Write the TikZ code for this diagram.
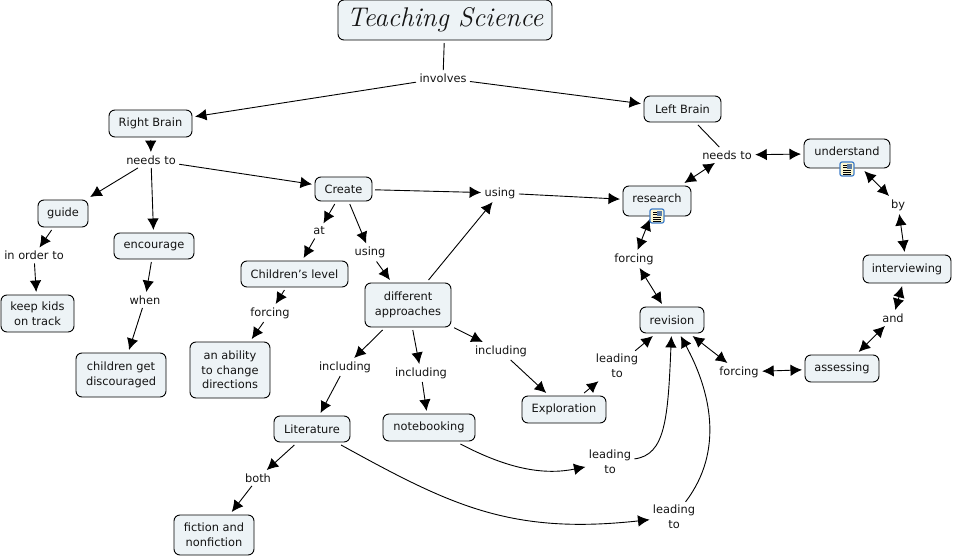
\documentclass[tikz,border=0pt]{standalone}
\usepackage{fontspec}
\setsansfont{DejaVu Sans}
\usetikzlibrary{arrows.meta}
\definecolor{conceptfill}{HTML}{EDF3F6}
\definecolor{iconblue}{HTML}{3D7CC9}
\definecolor{iconcream}{HTML}{FBF6D0}
\tikzset{>={Latex[length=11.5pt,width=11.5pt]},
  every node/.style={font=\sffamily\fontsize{11.4}{14.6}\selectfont,text=black!92},
  concept/.style={draw=black,fill=conceptfill,rounded corners=6pt,line width=.9pt,
    align=center,inner sep=1pt,outer sep=3pt},
  phrase/.style={align=center,inner sep=1pt,outer sep=2.5pt},
  link/.style={draw=black,line width=.9pt},
  noteicon/.pic={
    \draw[iconblue,fill=iconcream,line width=1.2pt,rounded corners=2pt] (-7,-7) rectangle (7,7);
    \foreach \y in {-4,-2}{\draw[black,line width=.8pt] (-4,\y)--(-.5,\y);}
    \foreach \y in {1,3,5}{\draw[black,line width=.8pt] (-4,\y)--(4,\y);}
    \fill[iconblue!55!gray] (0,-5) rectangle (5,-.5);
  }}
\begin{document}
\begin{tikzpicture}[x=1pt,y=-1pt]
\path[use as bounding box] (0,0) rectangle (954,557);
% concepts
\node[concept,minimum width=214pt,minimum height=40pt,font=\rmfamily\itshape\fontsize{27}{30}\selectfont] (science) at (445,20) {Teaching Science};
\node[concept,minimum width=83pt,minimum height=27pt] (rightbrain) at (150.5,123.5) {Right Brain};
\node[concept,minimum width=77pt,minimum height=26pt] (leftbrain) at (682.5,109) {Left Brain};
\node[concept,minimum width=86pt,minimum height=29pt,text height=9pt,text depth=6pt] (understand) at (847,153.5) {understand};
\node[concept,minimum width=68pt,minimum height=30pt,text height=9pt,text depth=5.5pt] (research) at (657,201) {research};
\node[concept,minimum width=57pt,minimum height=24pt] (create) at (343.5,189) {Create};
\node[concept,minimum width=50pt,minimum height=27pt] (guide) at (63,213.5) {guide};
\node[concept,minimum width=80pt,minimum height=26pt] (encourage) at (154,246) {encourage};
\node[concept,minimum width=73pt,minimum height=37pt] (keepkids) at (37.5,313.5) {keep kids\\on track};
\node[concept,minimum width=90pt,minimum height=44pt] (discouraged) at (121,375) {children get\\discouraged};
\node[concept,minimum width=107pt,minimum height=26pt] (childlevel) at (294.5,274) {Children's level};
\node[concept,minimum width=80pt,minimum height=56pt] (ability) at (230,370) {an ability\\to change\\directions};
\node[concept,minimum width=86pt,minimum height=44pt] (approaches) at (408,305) {different\\approaches};
\node[concept,minimum width=76pt,minimum height=26pt] (literature) at (312,429) {Literature};
\node[concept,minimum width=92pt,minimum height=27pt] (notebooking) at (429,427.5) {notebooking};
\node[concept,minimum width=84pt,minimum height=27pt] (exploration) at (564,409.5) {Exploration};
\node[concept,minimum width=80pt,minimum height=40pt] (fiction) at (214,535) {fiction and\\nonfiction};
\node[concept,minimum width=64pt,minimum height=26pt] (revision) at (672,320) {revision};
\node[concept,minimum width=74pt,minimum height=27pt] (assessing) at (842,368.5) {assessing};
\node[concept,minimum width=88pt,minimum height=28pt] (interviewing) at (907,269) {interviewing};
% linking phrases
\node[phrase] (involves) at (443,78) {involves};
\node[phrase] (rightneeds) at (151,160) {needs to};
\node[phrase] (leftneeds) at (727,155) {needs to};
\node[phrase] (createusing) at (500,193) {using};
\node[phrase] (inorder) at (34,255.5) {in order to};
\node[phrase] (when) at (145,300) {when};
\node[phrase] (at) at (319,231) {at};
\node[phrase] (diffusing) at (370,252.5) {using};
\node[phrase] (levelforcing) at (270,313) {forcing};
\node[phrase] (inclleft) at (345,367) {including};
\node[phrase] (inclmid) at (421,373) {including};
\node[phrase] (inclright) at (501,351) {including};
\node[phrase] (both) at (258,478) {both};
\node[phrase] (leadexpl) at (617,366) {leading\\to};
\node[phrase] (leadnote) at (610,462) {leading\\to};
\node[phrase] (leadlit) at (674,517) {leading\\to};
\node[phrase] (resforcing) at (634,259) {forcing};
\node[phrase] (revforcing) at (739,372) {forcing};
\node[phrase] (and) at (893,318) {and};
\node[phrase] (by) at (898,205) {by};
% connectors
\draw[link] (science) -- (involves);
\draw[link,->] (involves) -- (rightbrain);
\draw[link,->] (involves) -- (leftbrain);
\draw[link,->] (rightbrain) -- (rightneeds);
\draw[link,->] (rightneeds) -- (guide);
\draw[link,->] (rightneeds) -- (encourage);
\draw[link,->] (rightneeds) -- (create);
\draw[link,->] (guide) -- (inorder);
\draw[link,->] (inorder) -- (keepkids);
\draw[link,->] (encourage) -- (when);
\draw[link,->] (when) -- (discouraged);
\draw[link,->] (create) -- (at);
\draw[link,->] (at) -- (childlevel);
\draw[link,->] (create) -- (diffusing);
\draw[link,->] (diffusing) -- (approaches);
\draw[link,->] (childlevel) -- (levelforcing);
\draw[link,->] (levelforcing) -- (ability);
\draw[link,->] (create) -- (createusing);
\draw[link,->] (createusing) -- (research);
\draw[link,->] (approaches) -- (createusing);
\draw[link,->] (approaches) -- (inclleft);
\draw[link,->] (inclleft) -- (literature);
\draw[link,->] (approaches) -- (inclmid);
\draw[link,->] (inclmid) -- (notebooking);
\draw[link,->] (approaches) -- (inclright);
\draw[link,->] (inclright) -- (exploration);
\draw[link,->] (literature) -- (both);
\draw[link,->] (both) -- (fiction);
\draw[link,->] (exploration) -- (leadexpl);
\draw[link,->] (leadexpl) -- (revision);
\draw[link,->] (notebooking) .. controls (510,470) and (545,475) .. (leadnote);
\draw[link,->] (leadnote) .. controls (665,455) and (668,420) .. (revision);
\draw[link,->] (literature) .. controls (450,505) and (510,535) .. (leadlit);
\draw[link,->] (leadlit) .. controls (725,450) and (710,390) .. (revision);
\draw[link] (leftbrain) -- (leftneeds);
\draw[link,<->] (leftneeds) -- (research);
\draw[link,<->] (leftneeds) -- (understand);
\draw[link,<->] (research) -- (resforcing);
\draw[link,<->] (resforcing) -- (revision);
\draw[link,<->] (revision) -- (revforcing);
\draw[link,<->] (revforcing) -- (assessing);
\draw[link,<->] (assessing) -- (and);
\draw[link,<->] (and) -- (interviewing);
\draw[link,<->] (interviewing) -- (by);
\draw[link,<->] (by) -- (understand);
% icons
\pic at (847,169) {noteicon};
\pic at (657,216) {noteicon};
\end{tikzpicture}
\end{document}
